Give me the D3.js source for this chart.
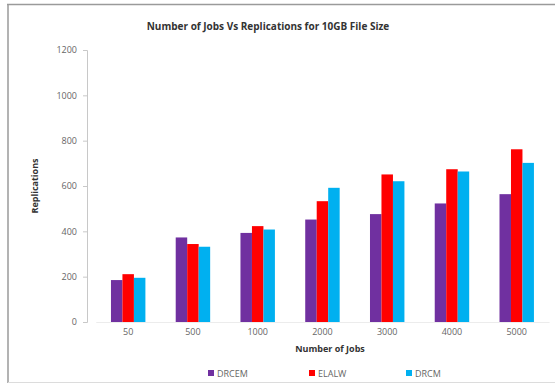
<!DOCTYPE html>
<html><head><meta charset="utf-8">
<script src="https://cdn.jsdelivr.net/npm/d3@7"></script>
<style>body{margin:0;background:#fff}</style>
</head><body><svg id="c" width="555" height="386"></svg>
<script>
const categories = ["50","500","1000","2000","3000","4000","5000"];
const seriesNames = ["DRCEM","ELALW","DRCM"];
const DRCEM = [185,373,393,452,476,523,564];
const ELALW = [211,344,423,533,651,674,762];
const DRCM  = [195,332,408,592,621,664,702];
const yTicks = [0,200,400,600,800,1000,1200];
const colors = ["#7030A0","#FF0000","#00B0F0"];
const seriesVals = [DRCEM, ELALW, DRCM];

const svg = d3.select("#c");
const font = "'Open Sans', 'Liberation Sans', sans-serif";
svg.append("line").attr("x1",7).attr("x2",555).attr("y1",4.5).attr("y2",4.5).attr("stroke","#9a9a9a").attr("stroke-width",1.5);
svg.append("line").attr("x1",8).attr("x2",8).attr("y1",4).attr("y2",383).attr("stroke","#9a9a9a").attr("stroke-width",1.5);
svg.append("line").attr("x1",8).attr("x2",555).attr("y1",382.5).attr("y2",382.5).attr("stroke","#dcdcdc");

const pLeft=87, pBottom=322, pTop=50;
const x = d3.scaleBand().domain(categories).range([95.8,549.1]).paddingInner(0);
const xs = d3.scaleBand().domain(seriesNames).range([0,x.bandwidth()]).paddingInner(0).paddingOuter(1.32);
const y = d3.scaleLinear().domain([0,1200]).range([pBottom,pTop]);

const yAxis = d3.axisLeft(y).tickValues(yTicks).tickFormat(d3.format("d")).tickSize(4).tickPadding(6);
const gy = svg.append("g").attr("transform",`translate(${pLeft},0)`).call(yAxis);
gy.select(".domain").attr("stroke","#c8c8c8");
gy.selectAll(".tick line").attr("stroke","#c8c8c8");
gy.selectAll("text").attr("font-family",font).attr("font-size",9).attr("fill","#666");

const xAxis = d3.axisBottom(x).tickSize(0).tickPadding(7);
const gx = svg.append("g").attr("transform",`translate(0,${pBottom})`).call(xAxis);
gx.select(".domain").attr("stroke","#ececec");
gx.selectAll("text").attr("font-family",font).attr("font-size",9).attr("fill","#666");

const groups = svg.append("g").selectAll("g").data(categories).join("g")
  .attr("transform",d=>`translate(${x(d)},0)`);
seriesNames.forEach((s,si)=>{
  groups.append("rect")
    .attr("x",xs(s)).attr("width",xs.bandwidth())
    .attr("y",(d,i)=>y(seriesVals[si][i]))
    .attr("height",(d,i)=>pBottom-y(seriesVals[si][i]))
    .attr("fill",colors[si]);
});

svg.append("text").attr("x",268).attr("y",30).attr("text-anchor","middle")
  .attr("font-family",font).attr("font-size",10).attr("font-weight","bold").attr("fill","#333")
  .text("Number of Jobs Vs Replications for 10GB File Size");
svg.append("text").attr("transform","translate(38,186) rotate(-90)").attr("text-anchor","middle")
  .attr("font-family",font).attr("font-size",9).attr("font-weight","bold").attr("fill","#333")
  .text("Replications");
svg.append("text").attr("x",330).attr("y",352).attr("text-anchor","middle")
  .attr("font-family",font).attr("font-size",9).attr("font-weight","bold").attr("fill","#333")
  .text("Number of Jobs");

const legX = [208,309,406];
const leg = svg.append("g").selectAll("g").data(seriesNames).join("g")
  .attr("transform",(d,i)=>`translate(${legX[i]},374)`);
leg.append("rect").attr("x",0).attr("y",-4).attr("width",6).attr("height",6).attr("fill",(d,i)=>colors[i]);
leg.append("text").attr("x",9).attr("y",2.5).attr("font-family",font).attr("font-size",9).attr("fill","#666").text(d=>d);
</script></body></html>
